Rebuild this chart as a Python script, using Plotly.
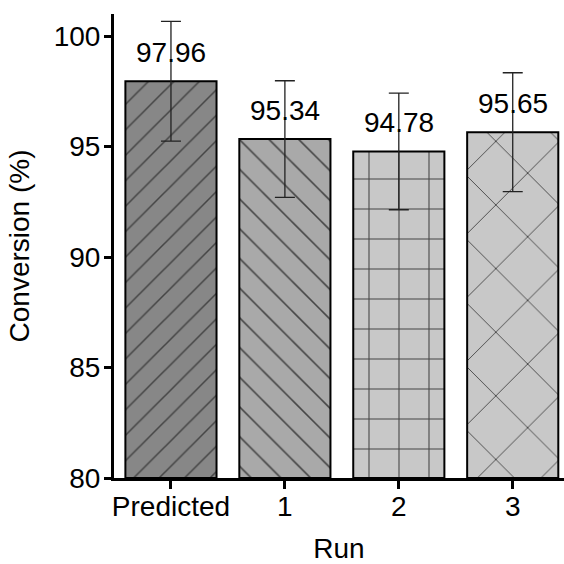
import plotly.graph_objects as go

categories = ["Predicted", "1", "2", "3"]
conversion = [97.96, 95.34, 94.78, 95.65]
errors = [2.71, 2.64, 2.64, 2.69]
labels = ["97.96", "95.34", "94.78", "95.65"]
fill_colors = ["#878787", "#a9a9a9", "#c8c8c8", "#c8c8c8"]
shapes = ["/", "\\", "+", "x"]
sizes = [18, 21, 30, 45]
solidities = [0.085, 0.075, 0.07, 0.04]

FONT = "Liberation Sans, Arial, sans-serif"

fig = go.Figure()
fig.add_trace(go.Bar(
    x=categories,
    y=[v - 80 for v in conversion],
    base=80,
    width=0.8,
    marker=dict(
        color=fill_colors,
        line=dict(color="black", width=2),
        pattern=dict(shape=shapes, size=sizes, solidity=solidities,
                     fgcolor="black", fgopacity=1, bgcolor=fill_colors,
                     fillmode="overlay"),
    ),
    error_y=dict(type="data", array=errors, color="#222222", thickness=1.3, width=10),
    showlegend=False,
))

for c, v, t in zip(categories, conversion, labels):
    fig.add_annotation(x=c, y=v, text=t, showarrow=False, yanchor="bottom",
                       yshift=11, font=dict(size=28, color="black", family=FONT))

fig.update_layout(
    width=564, height=564,
    margin=dict(l=114, r=0, t=14, b=86),
    plot_bgcolor="white", paper_bgcolor="white",
    font=dict(family=FONT, size=28, color="black"),
    bargap=0.2,
)
fig.update_xaxes(
    range=[-0.5, 3.45], showline=True, linecolor="black", linewidth=3,
    ticks="outside", ticklen=8, tickwidth=3, tickcolor="black",
    ticklabelstandoff=-7,
    showgrid=False, zeroline=False,
    title=dict(text="Run", standoff=22, font=dict(size=28)),
    tickfont=dict(size=28),
)
fig.update_yaxes(
    range=[80, 101], showline=True, linecolor="black", linewidth=3,
    ticks="outside", ticklen=7, tickwidth=3, tickcolor="black",
    ticklabelstandoff=-2,
    tickvals=[80, 85, 90, 95, 100],
    showgrid=False, zeroline=False,
    title=dict(text="Conversion (%)", standoff=16, font=dict(size=28)),
    tickfont=dict(size=28),
)

fig.write_html("out.html")
